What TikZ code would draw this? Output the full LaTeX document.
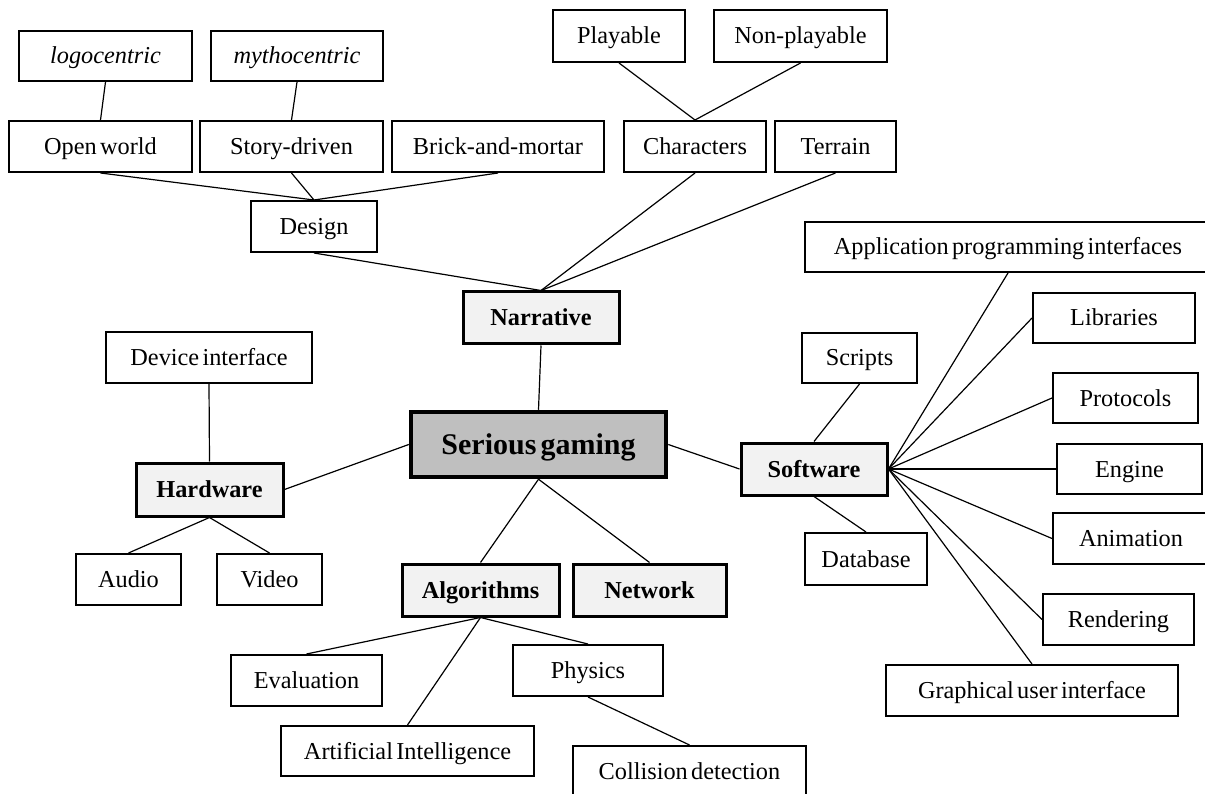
\documentclass[tikz,border=0pt]{standalone}
\usepackage{fontspec}
\setmainfont[WordSpace=0.55]{Liberation Serif}
\begin{document}
\begin{tikzpicture}[x=1pt,y=-1pt,
  leaf/.style={draw, line width=2pt, fill=white, inner sep=0pt,
    minimum height=51pt, font=\fontsize{24.3}{28}\selectfont,
    text height=16pt, text depth=0pt},
  branch/.style={leaf, line width=3pt, fill=black!5,
    font=\fontsize{24.3}{28}\selectfont\bfseries},
  hub/.style={draw, line width=4.5pt, fill=black!25, inner sep=0pt,
    font=\fontsize{30}{34}\selectfont\bfseries, text height=20pt, text depth=0pt},
  link/.style={line width=1.2pt}]
\useasboundingbox (0,0) rectangle (1205,794);

% centre
\node[hub, minimum width=255pt, minimum height=65pt] (sg) at (538.5,444.5) {Serious gaming};

% narrative branch
\node[branch, minimum width=156pt, minimum height=52pt] (nar) at (541,318) {Narrative};
\node[leaf, minimum width=126pt] (des) at (314,226.5) {Design};
\node[leaf, minimum width=183pt] (ow) at (100.5,146.5) {Open world};
\node[leaf, minimum width=183pt] (sd) at (291.5,146.5) {Story-driven};
\node[leaf, minimum width=212pt] (bm) at (498,146.5) {Brick-and-mortar};
\node[leaf, minimum width=173pt, minimum height=50pt] (logo) at (105.5,56) {\itshape logocentric};
\node[leaf, minimum width=172pt, minimum height=50pt] (myth) at (297,56) {\itshape mythocentric};
\node[leaf, minimum width=142pt] (chr) at (695,146.5) {Characters};
\node[leaf, minimum width=121pt] (ter) at (835.5,146.5) {Terrain};
\node[leaf, minimum width=132pt, minimum height=52pt] (ply) at (619,36) {Playable};
\node[leaf, minimum width=173pt, minimum height=52pt] (nply) at (800.5,36) {Non-playable};

% hardware branch
\node[branch, minimum width=147pt, minimum height=53pt] (hw) at (209.5,489.5) {Hardware};
\node[leaf, minimum width=206pt] (dev) at (209,357.5) {Device interface};
\node[leaf, minimum width=105pt] (aud) at (128.5,579.5) {Audio};
\node[leaf, minimum width=105pt] (vid) at (269.5,579.5) {Video};

% algorithms and network
\node[branch, minimum width=157pt, minimum height=52pt] (alg) at (480.5,590) {Algorithms};
\node[branch, minimum width=153pt, minimum height=52pt] (net) at (649.5,590) {Network};
\node[leaf, minimum width=151pt] (eva) at (306.5,680.5) {Evaluation};
\node[leaf, minimum width=253pt, minimum height=50pt] (ai) at (407.5,751) {Artificial Intelligence};
\node[leaf, minimum width=150pt] (phy) at (588,670.5) {Physics};
\node[leaf, minimum width=233pt] (col) at (689.5,771.5) {Collision detection};

% software branch
\node[branch, minimum width=146pt, minimum height=52pt] (sw) at (814,469) {Software};
\node[leaf, minimum width=406pt, minimum height=50pt] (api) at (1008,247) {Application programming interfaces};
\node[leaf, minimum width=162pt, minimum height=50pt] (lib) at (1114,318) {Libraries};
\node[leaf, minimum width=115pt, minimum height=50pt] (scr) at (859.5,358) {Scripts};
\node[leaf, minimum width=145pt, minimum height=50pt] (pro) at (1125.5,398) {Protocols};
\node[leaf, minimum width=145pt, minimum height=50pt] (eng) at (1129.5,469) {Engine};
\node[leaf, minimum width=156pt] (ani) at (1131,538.5) {Animation};
\node[leaf, minimum width=122pt, minimum height=52pt] (db) at (866,559) {Database};
\node[leaf, minimum width=151pt] (ren) at (1118.5,619.5) {Rendering};
\node[leaf, minimum width=292pt] (gui) at (1032,690.5) {Graphical user interface};

% connectors
\draw[link] (logo.south) -- (ow.north);
\draw[link] (myth.south) -- (sd.north);
\draw[link] (ow.south) -- (des.north);
\draw[link] (sd.south) -- (des.north);
\draw[link] (bm.south) -- (des.north);
\draw[link] (ply.south) -- (chr.north);
\draw[link] (nply.south) -- (chr.north);
\draw[link] (des.south) -- (nar.north);
\draw[link] (chr.south) -- (nar.north);
\draw[link] (ter.south) -- (nar.north);
\draw[link] (nar.south) -- (sg.north);
\draw[link] (sg.west) -- (hw.east);
\draw[link] (sg.east) -- (sw.west);
\draw[link] (sg.south) -- (alg.north);
\draw[link] (sg.south) -- (net.north);
\draw[link] (dev.south) -- (hw.north);
\draw[link] (hw.south) -- (aud.north);
\draw[link] (hw.south) -- (vid.north);
\draw[link] (alg.south) -- (eva.north);
\draw[link] (alg.south) -- (ai.north);
\draw[link] (alg.south) -- (phy.north);
\draw[link] (phy.south) -- (col.north);
\draw[link] (sw.north) -- (scr.south);
\draw[link] (sw.south) -- (db.north);
\draw[link] (sw.east) -- (api.south);
\draw[link] (sw.east) -- (lib.west);
\draw[link] (sw.east) -- (pro.west);
\draw[link] (sw.east) -- (eng.west);
\draw[link] (sw.east) -- (ani.west);
\draw[link] (sw.east) -- (ren.west);
\draw[link] (sw.east) -- (gui.north);
\end{tikzpicture}
\end{document}
